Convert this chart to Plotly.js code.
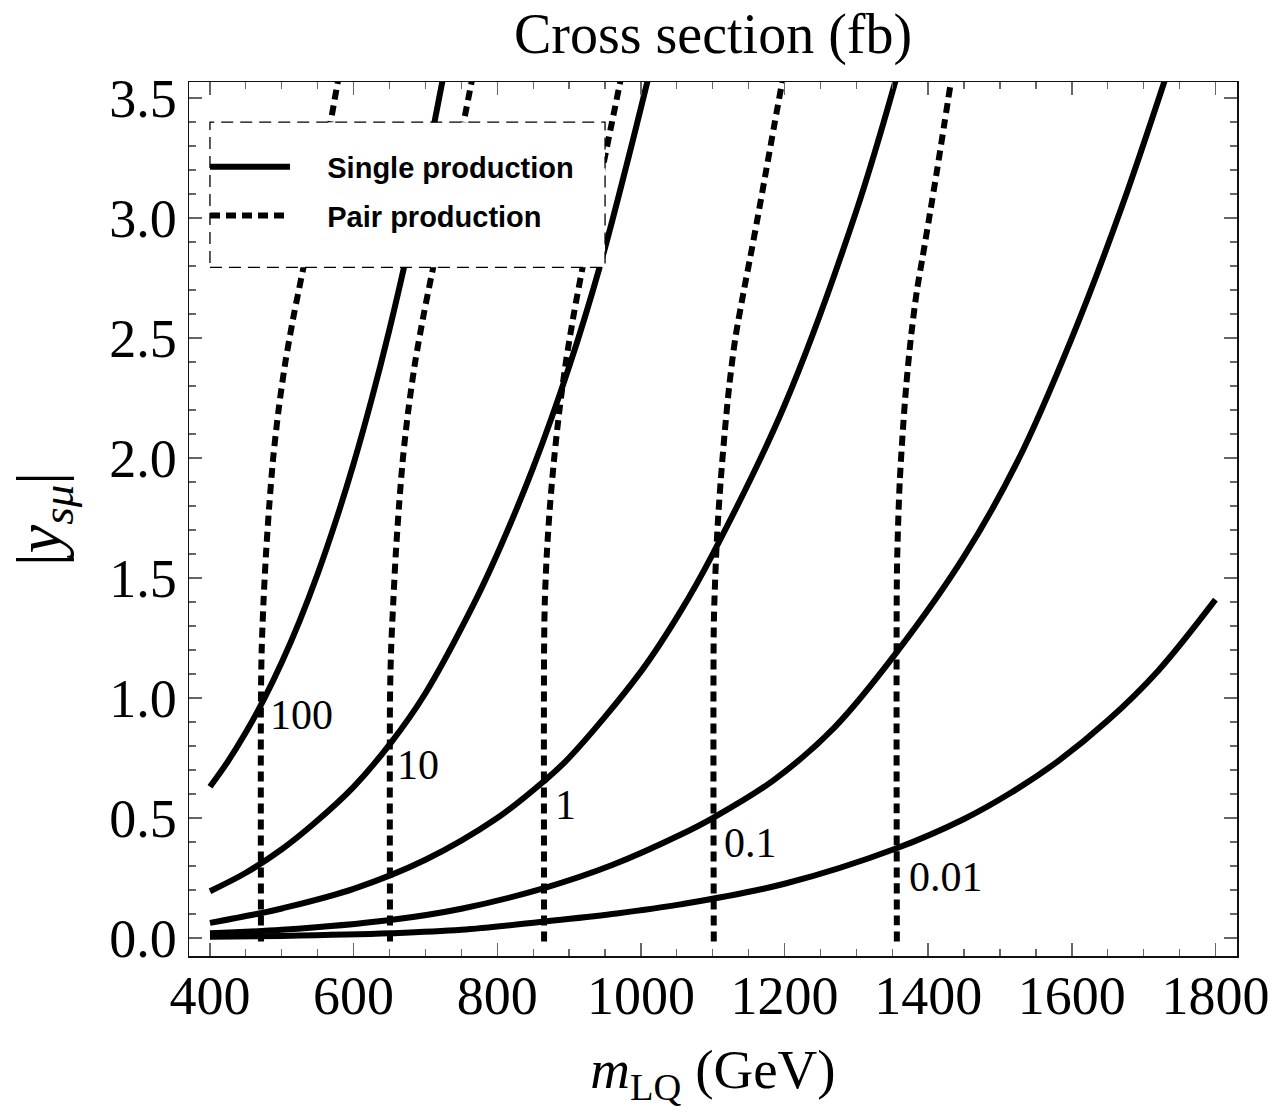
<!DOCTYPE html>
<html>
<head>
<meta charset="utf-8">
<script src="https://cdn.plot.ly/plotly-3.0.1.min.js"></script>
<style>
  html, body { margin: 0; padding: 0; background: #fff; }
  #chart { width: 1283px; height: 1112px; }
</style>
</head>
<body>
<div id="chart"></div>
<script>
// Contour levels of the cross section (fb)
const levels = ["100", "10", "1", "0.1", "0.01"];

// Single production contours: m_LQ (GeV) vs |y_smu|
const single100X = [400, 425, 450, 475, 500, 525, 550, 575, 600, 625, 650, 675, 700, 730];
const single100Y = [0.63, 0.736, 0.857, 0.994, 1.149, 1.323, 1.518, 1.736, 1.977, 2.244, 2.537, 2.859, 3.21, 3.67];
const single10X  = [400, 450, 500, 544, 600, 651, 700, 767, 800, 850, 900, 943, 980, 1010];
const single10Y  = [0.195, 0.272, 0.37, 0.475, 0.63, 0.81, 1.02, 1.39, 1.60, 1.96, 2.38, 2.80, 3.22, 3.58];
const single1X   = [400, 470, 500, 600, 700, 800, 864, 900, 1000, 1055, 1100, 1200, 1300, 1360];
const single1Y   = [0.063, 0.103, 0.123, 0.205, 0.326, 0.50, 0.651, 0.751, 1.11, 1.36, 1.60, 2.22, 3.03, 3.63];
const single01X  = [400, 500, 651, 750, 864, 960, 1055, 1103, 1185, 1270, 1356, 1450, 1525, 1600, 1670, 1740];
const single01Y  = [0.02, 0.034, 0.075, 0.122, 0.207, 0.304, 0.43, 0.505, 0.658, 0.879, 1.19, 1.59, 1.99, 2.50, 3.05, 3.67];
const single001X = [400, 500, 651, 750, 864, 960, 1055, 1200, 1356, 1450, 1514, 1580, 1650, 1720, 1800];
const single001Y = [0.005, 0.0087, 0.0196, 0.034, 0.068, 0.10, 0.14, 0.226, 0.374, 0.496, 0.603, 0.735, 0.906, 1.113, 1.41];

// Pair production contours
const pair100X = [471, 471, 472, 474.5, 478, 482.5, 488, 495.5, 505, 517, 530.5, 543, 555.5, 568, 581];
const pair100Y = [-0.015, 1.0, 1.2, 1.4, 1.6, 1.8, 2.0, 2.2, 2.4, 2.6, 2.8, 3.0, 3.2, 3.4, 3.62];
const pair10X  = [650.7, 650.7, 652.2, 655.2, 658.7, 663.2, 668.7, 676.2, 685.7, 697.7, 711.2, 725.2, 739.2, 753.2, 767.7];
const pair10Y  = [-0.015, 1.0, 1.2, 1.4, 1.6, 1.8, 2.0, 2.2, 2.4, 2.6, 2.8, 3.0, 3.2, 3.4, 3.62];
const pair1X   = [865.2, 865.2, 866.2, 869, 873.4, 879.3, 886.6, 895.6, 906.6, 919.2, 932.6, 946.2, 959.8, 974.8];
const pair1Y   = [-0.015, 1.2, 1.4, 1.6, 1.8, 2.0, 2.2, 2.4, 2.6, 2.8, 3.0, 3.2, 3.4, 3.62];
const pair01X  = [1101.5, 1101.5, 1103.5, 1106.5, 1111, 1116.5, 1123, 1131.5, 1143.5, 1152.5, 1162.5, 1174.5, 1186.5, 1200];
const pair01Y  = [-0.015, 1.3, 1.5, 1.7, 1.9, 2.1, 2.3, 2.5, 2.7, 2.84, 3.0, 3.2, 3.4, 3.62];
const pair001X = [1356.4, 1356.4, 1357.9, 1360.4, 1364.4, 1369.4, 1375.9, 1384.4, 1392.4, 1401.4, 1412.4, 1422.9, 1434.4];
const pair001Y = [-0.015, 1.5, 1.7, 1.9, 2.1, 2.3, 2.5, 2.7, 2.84, 3.0, 3.2, 3.4, 3.62];

// Where each level's label sits (left edge, vertical centre)
const labelX = [481, 658, 878, 1113, 1371];
const labelY = [0.93, 0.72, 0.555, 0.395, 0.255];

// Axis ticks
const massTicks = [400, 600, 800, 1000, 1200, 1400, 1600, 1800];
const couplingTicks = [0.0, 0.5, 1.0, 1.5, 2.0, 2.5, 3.0, 3.5];

const serif = "Liberation Serif, Times New Roman, serif";
const sans = "Liberation Sans, Arial, sans-serif";
const pad = "\u00A0\u00A0\u00A0\u00A0";

const singleSets = [
  [single100X, single100Y], [single10X, single10Y], [single1X, single1Y],
  [single01X, single01Y], [single001X, single001Y]
];
const pairSets = [
  [pair100X, pair100Y], [pair10X, pair10Y], [pair1X, pair1Y],
  [pair01X, pair01Y], [pair001X, pair001Y]
];

const traces = [];
singleSets.forEach(([xs, ys], i) => {
  traces.push({
    x: xs, y: ys, type: "scatter", mode: "lines",
    name: pad + "Single production", legendgroup: "single",
    showlegend: i === 0,
    line: { color: "#000", width: 6, shape: "spline", smoothing: 1 },
    hoverinfo: "skip"
  });
});
pairSets.forEach(([xs, ys], i) => {
  traces.push({
    x: xs, y: ys, type: "scatter", mode: "lines",
    name: pad + "Pair production", legendgroup: "pair",
    showlegend: i === 0,
    line: { color: "#000", width: 6, dash: "10px,6px", shape: "spline", smoothing: 0.8 },
    hoverinfo: "skip"
  });
});

const annotations = levels.map((lv, i) => ({
  x: labelX[i], y: labelY[i], xref: "x", yref: "y",
  text: lv, showarrow: false, xanchor: "left", yanchor: "middle",
  font: { family: serif, size: 42, color: "#000" }
}));

const layout = {
  width: 1283, height: 1112,
  margin: { l: 189, r: 46, t: 82, b: 156 },
  paper_bgcolor: "#fff", plot_bgcolor: "#fff",
  title: {
    text: "Cross section (fb)", xref: "paper", x: 0.5,
    yref: "container", y: 0.970, yanchor: "middle",
    font: { family: serif, size: 56, color: "#000" }
  },
  xaxis: {
    range: [370.8, 1830],
    tickvals: massTicks, ticktext: massTicks.map(String),
    ticks: "inside", ticklen: 13, tickwidth: 1.5, tickcolor: "#666",
    minor: { dtick: 50, tick0: 0, ticks: "inside", ticklen: 7, tickwidth: 1.2, tickcolor: "#666", showgrid: false },
    showline: true, linecolor: "#111", linewidth: 1.5, mirror: "allticks",
    showgrid: false, zeroline: false,
    ticklabelstandoff: -8,
    tickfont: { family: serif, size: 54, color: "#000" },
    title: { text: "<i>m</i><sub>LQ</sub> (GeV)", standoff: 24, font: { family: serif, size: 55, color: "#000" } }
  },
  yaxis: {
    range: [-0.075, 3.567],
    tickvals: couplingTicks, ticktext: couplingTicks.map(v => v.toFixed(1)),
    ticks: "inside", ticklen: 13, tickwidth: 1.5, tickcolor: "#666",
    minor: { dtick: 0.1, tick0: 0, ticks: "inside", ticklen: 7, tickwidth: 1.2, tickcolor: "#666", showgrid: false },
    showline: true, linecolor: "#111", linewidth: 1.5, mirror: "allticks",
    showgrid: false, zeroline: false,
    tickfont: { family: serif, size: 54, color: "#000" },
    title: { text: "|<i>y</i><sub><i>sμ</i></sub>|", standoff: 28, font: { family: serif, size: 64, color: "#000" } }
  },
  showlegend: true,
  legend: {
    x: 0.0153, y: 0.932, xanchor: "left", yanchor: "top",
    bgcolor: "rgba(0,0,0,0)", borderwidth: 0,
    itemwidth: 80, tracegroupgap: 8,
    font: { family: sans, size: 29, color: "#000", weight: "bold" }
  },
  shapes: [{
    type: "rect", xref: "paper", yref: "paper",
    x0: 0.02, x1: 0.397, y0: 0.788, y1: 0.954,
    fillcolor: "#fff", layer: "above",
    line: { color: "#000", width: 1.3, dash: "12px,7px" }
  }],
  annotations: annotations
};

Plotly.newPlot("chart", traces, layout, { staticPlot: true, displayModeBar: false });
</script>
</body>
</html>
